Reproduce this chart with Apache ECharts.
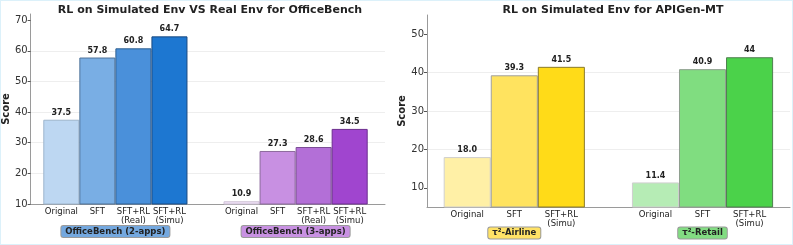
<!DOCTYPE html>
<html><head><meta charset="utf-8">
<script src="https://cdn.jsdelivr.net/npm/echarts@6/dist/echarts.min.js"></script>
<style>
html,body{margin:0;padding:0;background:#fff;}
#wrap{position:relative;width:793px;height:245px;}
#c{width:793px;height:245px;}
#border{position:absolute;left:0;top:0;width:793px;height:245px;box-sizing:border-box;border:1px solid #dcf1fa;pointer-events:none;}
</style></head>
<body><div id="wrap"><div id="c"></div><div id="border"></div></div>
<script>
// ---- data ----
const leftTitle = 'RL on Simulated Env VS Real Env for OfficeBench';
const rightTitle = 'RL on Simulated Env for APIGen-MT';
const leftBarLabels = ['Original', 'SFT', 'SFT+RL\n(Real)', 'SFT+RL\n(Simu)'];
const rightBarLabels = ['Original', 'SFT', 'SFT+RL\n(Simu)'];
const leftGroups = ['OfficeBench (2-apps)', 'OfficeBench (3-apps)'];
const rightGroups = ['τ²-Airline', 'τ²-Retail'];
const office2 = [37.5, 57.8, 60.8, 64.7];
const office3 = [10.9, 27.3, 28.6, 34.5];
const office2Text = ['37.5', '57.8', '60.8', '64.7'];
const office3Text = ['10.9', '27.3', '28.6', '34.5'];
const airline = [18.0, 39.3, 41.5];
const retail = [11.4, 40.9, 44];
const airlineText = ['18.0', '39.3', '41.5'];
const retailText = ['11.4', '40.9', '44'];
const leftTicks = [10, 20, 30, 40, 50, 60, 70];
const rightTicks = [10, 20, 30, 40, 50];

// ---- styles ----
const FONT = 'DejaVu Sans';
const c2 = ['#bdd7f2', '#79aee4', '#4a90da', '#1d77d1'];
const b2 = ['#9db4cc', '#4f7399', '#2f5f91', '#1a4a80'];
const c3 = ['#eee0f6', '#c890e2', '#b36fd7', '#a045cf'];
const b3 = ['#cfc3d6', '#8d6a9e', '#7c4e96', '#6c2e8e'];
const cA = ['#fff0a6', '#ffe35f', '#ffdb18'];
const bA = ['#cfcfcf', '#a0a0a0', '#8a7a2a'];
const cR = ['#b6ecb5', '#80dd80', '#4bd24a'];
const bR = ['#cfcfcf', '#8f9f8f', '#4f7f4f'];
const groupBg = ['#74a8df', '#c891e2', '#ffe266', '#82dc82'];

function buildData(groupA, groupB, colA, brA, colB, brB, txtA, txtB) {
  const data = [], texts = [];
  groupA.forEach((v, i) => { data.push({value: v, itemStyle: {color: colA[i], borderColor: brA[i]}}); texts.push(txtA[i]); });
  data.push({value: '-'}); texts.push('');
  groupB.forEach((v, i) => { data.push({value: v, itemStyle: {color: colB[i], borderColor: brB[i]}}); texts.push(txtB[i]); });
  return {data, texts};
}
const L = buildData(office2, office3, c2, b2, c3, b3, office2Text, office3Text);
const R = buildData(airline, retail, cA, bA, cR, bR, airlineText, retailText);
const leftCats = leftBarLabels.concat([''], leftBarLabels);
const rightCats = rightBarLabels.concat([''], rightBarLabels);

const LMIN = 10, LMAX = 72, RMIN = 5, RMAX = 55;

function frameY(gi, min, max, ticks) {
  return {
    type: 'value', gridIndex: gi, min: min, max: max,
    name: 'Score', nameLocation: 'middle', nameGap: 17,
    nameTextStyle: {fontFamily: FONT, fontWeight: 'bold', fontSize: 10, color: '#222'},
    axisLine: {show: true, lineStyle: {color: '#9a9a9a', width: 1}},
    axisTick: {show: true, length: 3, lineStyle: {color: '#555'}, customValues: ticks},
    axisLabel: {fontFamily: FONT, fontSize: 10, color: '#333', margin: 3, customValues: ticks},
    splitLine: {show: true, showMinLine: false, showMaxLine: false, lineStyle: {color: '#eeeeee', width: 1}}
  };
}
function frameX(gi) {
  return {type: 'value', gridIndex: gi, min: 0, max: 1,
    axisLine: {show: true, onZero: false, lineStyle: {color: '#9a9a9a', width: 1}},
    axisTick: {show: false}, axisLabel: {show: false}, splitLine: {show: false}};
}
function barX(gi, cats) {
  return {type: 'category', gridIndex: gi, data: cats,
    axisLine: {show: false}, axisTick: {show: false},
    axisLabel: {interval: 0, fontFamily: FONT, fontSize: 8.5, color: '#222', margin: 3, lineHeight: 9}};
}
function barY(gi, min, max) {
  return {type: 'value', gridIndex: gi, min: min, max: max, show: false, splitLine: {show: false}};
}
function barSeries(xi, yi, d) {
  return {
    type: 'bar', xAxisIndex: xi, yAxisIndex: yi, data: d.data,
    barWidth: '100%', barCategoryGap: '0%',
    itemStyle: {borderWidth: 1},
    label: {show: true, position: 'top', distance: 3, fontFamily: FONT, fontWeight: 'bold', fontSize: 8, color: '#222',
      formatter: p => d.texts[p.dataIndex]}
  };
}

const chart = echarts.init(document.getElementById('c'), null, {renderer: 'canvas'});
chart.setOption({
  animation: false,
  title: [
    {text: leftTitle, left: 205, top: 0, textAlign: 'center',
      textStyle: {fontFamily: FONT, fontWeight: 'bold', fontSize: 11, color: '#222'}},
    {text: rightTitle, left: 608, top: 0, textAlign: 'center',
      textStyle: {fontFamily: FONT, fontWeight: 'bold', fontSize: 11, color: '#222'}}
  ],
  grid: [
    {left: 28, right: 793 - 385, top: 14, bottom: 245 - 204},
    {left: 43.3, width: 324.4, top: 14, bottom: 245 - 204},
    {left: 427, right: 3, top: 15, bottom: 245 - 207},
    {left: 443.7, width: 329.4, top: 15, bottom: 245 - 207}
  ],
  xAxis: [frameX(0), barX(1, leftCats), frameX(2), barX(3, rightCats)],
  yAxis: [frameY(0, LMIN, LMAX, leftTicks), barY(1, LMIN, LMAX), frameY(2, RMIN, RMAX, rightTicks), barY(3, RMIN, RMAX)],
  series: [barSeries(1, 1, L), barSeries(3, 3, R)]
});

// group labels placed between the bars of each group, via the library's scale
function groupLabel(text, gridIdx, c1, c2i, y, bg) {
  const p1 = chart.convertToPixel({gridIndex: gridIdx}, [c1, 0])[0];
  const p2 = chart.convertToPixel({gridIndex: gridIdx}, [c2i, 0])[0];
  const x = (p1 + p2) / 2;
  return {type: 'text', x: x, y: y,
    style: {text: text, align: 'center', verticalAlign: 'middle', fontFamily: FONT, fontWeight: 'bold', fontSize: 8.5, fill: '#222',
      backgroundColor: bg, borderColor: '#9a9a9a', borderWidth: 1, borderRadius: 2, padding: [1, 4, 1, 4]}};
}
chart.setOption({graphic: [
  groupLabel(leftGroups[0], 1, 0, 3, 231.5, groupBg[0]),
  groupLabel(leftGroups[1], 1, 5, 8, 231.5, groupBg[1]),
  groupLabel(rightGroups[0], 3, 0, 2, 233, groupBg[2]),
  groupLabel(rightGroups[1], 3, 4, 6, 233, groupBg[3])
]});
</script></body></html>
